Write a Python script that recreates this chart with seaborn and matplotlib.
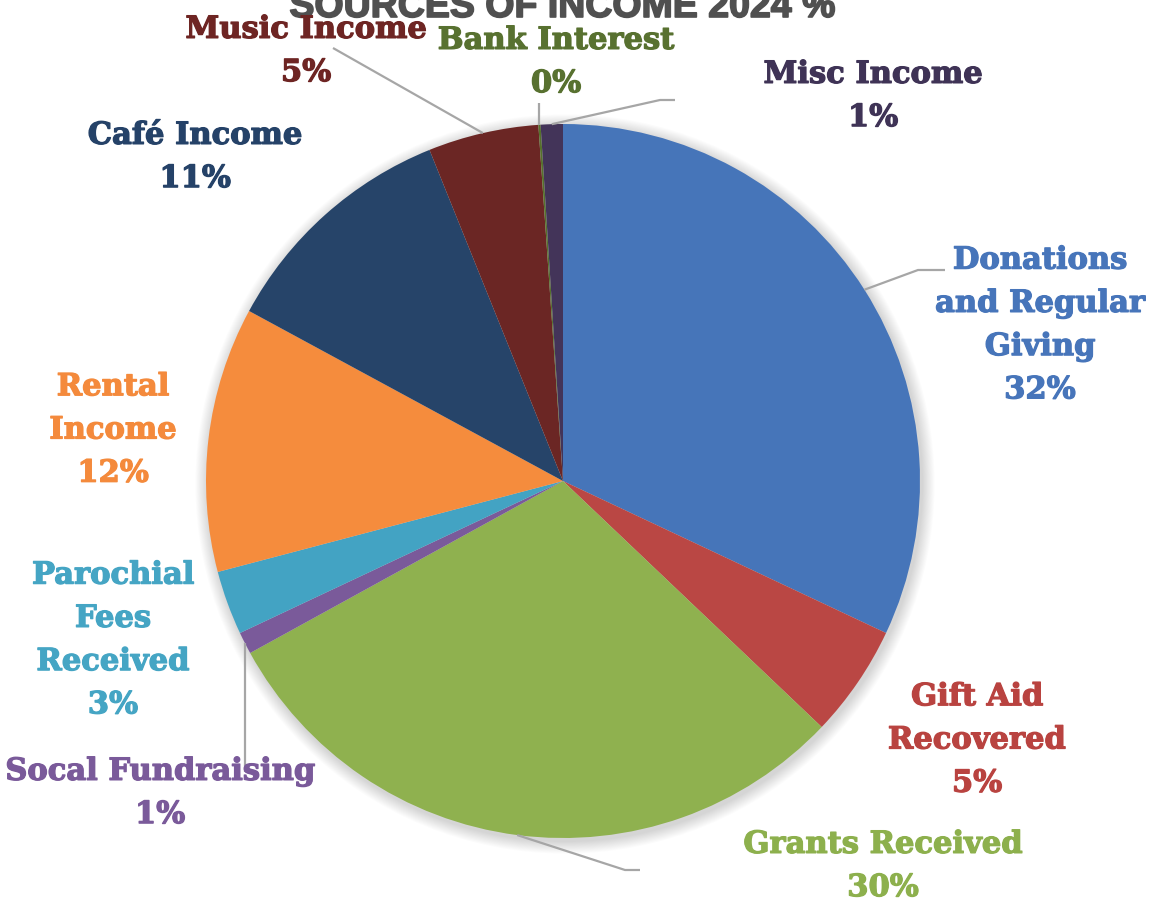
import numpy as np
import matplotlib
matplotlib.use("Agg")
import matplotlib.pyplot as plt
from matplotlib.patches import Circle
import matplotlib.patheffects as pe
import seaborn as sns

# Income sources, in the order the slices run clockwise from 12 o'clock
categories = [
    "Donations\nand Regular\nGiving",
    "Gift Aid\nRecovered",
    "Grants Received",
    "Socal Fundraising",
    "Parochial\nFees\nReceived",
    "Rental\nIncome",
    "Café Income",
    "Music Income",
    "Bank Interest",
    "Misc Income",
]
shares = [32.0, 5.1, 29.9, 1.0, 2.9, 12.0, 11.0, 5.0, 0.1, 1.0]

slice_colors = ["#4675B9", "#BA4744", "#8FB14F", "#7A5A9A", "#43A3C3",
                "#F58C3D", "#264469", "#6B2624", "#56712C", "#433459"]
text_colors = ["#4775BA", "#B94340", "#8DB04D", "#7A5A9A", "#45A5C4",
               "#F48A3C", "#254268", "#6E2523", "#587130", "#3F3356"]

title = "SOURCES OF INCOME 2024 %"

sns.set_theme(style="white")
plt.rcParams["font.family"] = ["DejaVu Serif", "DejaVu Sans"]

W, H = 1150, 906
fig = plt.figure(figsize=(W / 100, H / 100), dpi=100)
ax = fig.add_axes([0, 0, 1, 1])

cx, cy, r = 563, H - 481, 357

# soft drop shadow behind the pie
for i in range(14):
    ax.add_patch(Circle((cx + 2, cy - 3), r + 1 + i * 0.9, color="black",
                        alpha=0.012, lw=0, zorder=1))

wedges, _ = ax.pie(shares, colors=slice_colors, startangle=90, counterclock=False,
                   center=(cx, cy), radius=r, frame=True,
                   wedgeprops=dict(linewidth=0), normalize=True)
for w in wedges:
    w.set_zorder(2)
ax.set_xlim(0, W)
ax.set_ylim(0, H)
ax.set_aspect("equal")
ax.axis("off")

total = sum(shares)

# label block centres (x, y from the top) and leader routes
label_pos = [
    (1040, 325), (977, 740), (883, 866), (160, 793), (113, 640),
    (113, 430), (195, 157), (306, 51), (556, 62), (873, 96),
]
leader_route = {
    0: [(918, 270), (945, 270)],
    2: [(625, 870), (640, 870)],
    3: [None, 772],
    7: [(333, 48)],
    8: [None, 103],
    9: [(660, 100), (675, 100)],
}

for i, (w, name) in enumerate(zip(wedges, categories)):
    pct = shares[i] / total * 100
    x, y = label_pos[i]
    ax.text(x, H - y, f"{name}\n{pct:.0f}%", ha="center", va="center",
            fontsize=22, fontweight="bold", color=text_colors[i],
            linespacing=1.51, zorder=5,
            path_effects=[pe.withStroke(linewidth=0.9,
                                        foreground=text_colors[i])])
    if i in leader_route:
        mid = np.deg2rad((w.theta1 + w.theta2) / 2)
        ex, ey = cx + r * np.cos(mid), cy + r * np.sin(mid)
        pts = [(ex, ey)]
        route = leader_route[i]
        if route[0] is None:
            pts.append((ex, H - route[1]))
        else:
            pts += [(px, H - py) for px, py in route]
        xs, ys = zip(*pts)
        ax.plot(xs, ys, color="#A6A6A6", lw=1.6, zorder=3,
                solid_capstyle="butt")

ax.text(562, H - 17, title, ha="center", va="baseline",
        fontsize=27, fontweight="bold", color="#505050",
        family=["Liberation Sans", "DejaVu Sans"], zorder=4,
        path_effects=[pe.withStroke(linewidth=1.2, foreground="#505050")])

fig.savefig("out.png", dpi=100)
